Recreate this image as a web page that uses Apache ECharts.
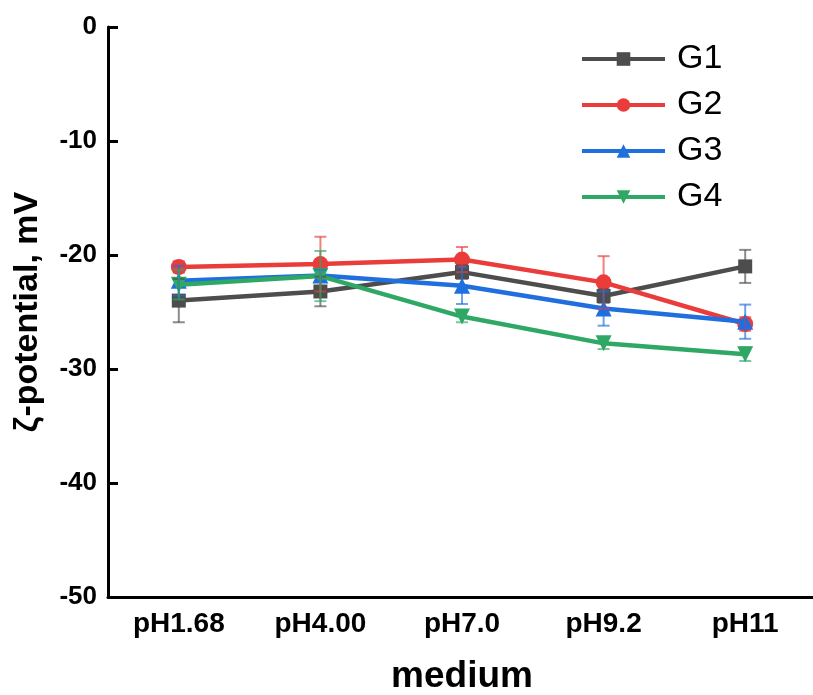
<!DOCTYPE html>
<html><head><meta charset="utf-8">
<script src="https://cdn.jsdelivr.net/npm/echarts@6/dist/echarts.min.js"></script>
<style>html,body{margin:0;padding:0;background:#fff}#c{width:813px;height:695px}</style>
</head><body><div id="c"></div>
<script>
const categories = ['pH1.68','pH4.00','pH7.0','pH9.2','pH11'];
const seriesNames = ['G1','G2','G3','G4'];
const G1 = [-24.0,-23.2,-21.5,-23.6,-21.0];
const G2 = [-21.05,-20.8,-20.4,-22.4,-26.05];
const G3 = [-22.25,-21.8,-22.7,-24.7,-25.85];
const G4 = [-22.6,-21.85,-25.4,-27.75,-28.7];
const G1err = [1.9,1.3,0.6,0.6,1.45];
const G2err = [0.5,2.4,1.1,2.3,0.6];
const G3err = [1.3,0.5,1.6,1.5,1.5];
const G4err = [1.3,2.2,0.5,0.5,0.6];
const yTicks = [0,-10,-20,-30,-40,-50];

const colors = ['#4d4d4d','#eb3c3c','#1f6fdf','#2fa865'];
const symbols = ['rect','circle','triangle','triangle'];
const rotates = [0,0,0,180];
const sizes = [14,16,16,16];
const vals = [G1,G2,G3,G4];
const errs = [G1err,G2err,G3err,G4err];
const FONT = '"Liberation Sans", Arial, sans-serif';

const chart = echarts.init(document.getElementById('c'), null, {renderer:'canvas'});
const series = [];
vals.forEach((v,i)=>{
  series.push({
    name: seriesNames[i], type:'line', data:v, color:colors[i],
    symbol:symbols[i], symbolSize:sizes[i], symbolRotate:rotates[i],
    lineStyle:{width:4.5,color:colors[i]}, itemStyle:{color:colors[i]}, z:3+i
  });
  series.push({
    type:'custom', name: seriesNames[i]+'_err', z: 10,
    data: v.map((y,k)=>[k, y-errs[i][k], y+errs[i][k]]),
    renderItem: function(params, api){
      const x = api.value(0);
      const lo = api.coord([x, api.value(1)]);
      const hi = api.coord([x, api.value(2)]);
      const w = 6;
      const st = {stroke: colors[i], lineWidth: 2, opacity: 0.65};
      return {type:'group', children:[
        {type:'line', shape:{x1:lo[0],y1:lo[1],x2:hi[0],y2:hi[1]}, style:st},
        {type:'line', shape:{x1:lo[0]-w,y1:lo[1],x2:lo[0]+w,y2:lo[1]}, style:st},
        {type:'line', shape:{x1:hi[0]-w,y1:hi[1],x2:hi[0]+w,y2:hi[1]}, style:st}
      ]};
    }
  });
});

chart.setOption({
  animation:false,
  grid:{left:108, top:27, width:708, height:570, containLabel:false, outerBoundsMode:'none'},
  legend:{
    data: seriesNames.map(n=>({name:n})),
    orient:'vertical', left:575, top:37,
    itemWidth:83, itemHeight:17, itemGap:12,
    lineStyle:{width:4},
    textStyle:{fontSize:34, lineHeight:34, fontFamily:FONT, color:'#000', padding:[0,0,0,7]}
  },
  xAxis:{
    type:'category', data:categories, boundaryGap:true,
    name:'medium', nameLocation:'middle', nameGap:61,
    nameTextStyle:{fontSize:37, fontWeight:'bold', fontFamily:FONT, color:'#000'},
    axisLine:{onZero:false, lineStyle:{color:'#000', width:3}},
    axisTick:{alignWithLabel:true, inside:true, length:9, lineStyle:{color:'#000', width:3}},
    axisLabel:{fontSize:28, fontWeight:'bold', fontFamily:FONT, color:'#000', margin:13},
    splitLine:{show:false}
  },
  yAxis:{
    type:'value', min:-50, max:0, interval:10,
    name:'ζ-potential, mV', nameLocation:'middle', nameGap:63,
    nameTextStyle:{fontSize:34, fontWeight:'bold', fontFamily:FONT, color:'#000'},
    axisLine:{show:true, onZero:false, lineStyle:{color:'#000', width:3}},
    axisTick:{show:true, inside:true, length:10, lineStyle:{color:'#000', width:3}},
    axisLabel:{fontSize:26, fontWeight:'bold', fontFamily:FONT, color:'#000', margin:11,
      formatter: v => yTicks.includes(v) ? String(v) : ''},
    splitLine:{show:false}
  },
  series: series
});
</script></body></html>
